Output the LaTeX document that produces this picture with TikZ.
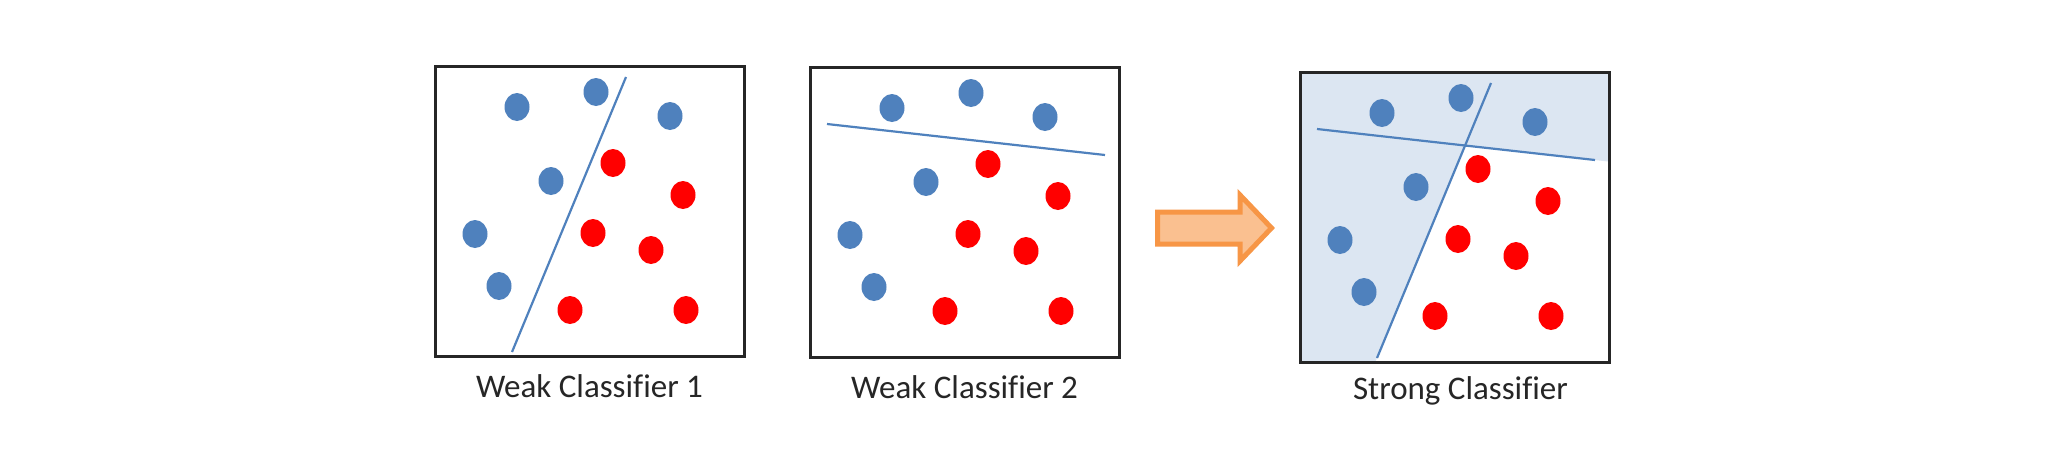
\documentclass[tikz,border=0pt]{standalone}
\usepackage{fontspec}
\setmainfont{Carlito}[Ligatures=CommonOff]
\definecolor{dotblue}{HTML}{4F81BD}
\definecolor{dotred}{HTML}{FF0000}
\definecolor{regionshade}{HTML}{DCE6F2}
\definecolor{arrowline}{HTML}{F79646}
\definecolor{arrowfill}{HTML}{FAC090}
\definecolor{framecol}{HTML}{262626}
\newcommand\paneldots{%
  \foreach \a/\b in {82/41,161/26,235/50,116/115,40/168,64/220}
    \fill[bluedot] (\a,\b) ellipse [x radius=12.5, y radius=14];
  \foreach \a/\b in {178/97,248/129,158/167,216/184,135/244,251/244}
    \fill[reddot] (\a,\b) ellipse [x radius=12.5, y radius=14];
}
\begin{document}
\begin{tikzpicture}[x=0.5pt,y=-0.5pt,
  bluedot/.style={fill=dotblue},
  reddot/.style={fill=dotred},
  sepline/.style={draw=dotblue,line width=1.1pt},
  panel/.style={draw=framecol,line width=1.5pt},
  caption/.style={anchor=base,font=\fontsize{16.5}{20}\selectfont,text=framecol,inner sep=0pt}]
\useasboundingbox (0,0) rectangle (2062,461);
\fill[white] (0,0) rectangle (2062,461);

% Weak classifier 1
\begin{scope}[shift={(435,66)}]
  \draw[sepline] (191,11) -- (77,286);
  \paneldots
  \draw[panel] (0,0) rectangle (309,290);
\end{scope}
\node[caption] (cap1) at (589.5,397) {Weak Classifier 1};

% Weak classifier 2
\begin{scope}[shift={(810,67)}]
  \draw[sepline] (17,57) -- (295,88);
  \paneldots
  \draw[panel] (0,0) rectangle (309,290);
\end{scope}
\node[caption] (cap2) at (964.5,398) {Weak Classifier 2};

% Arrow
\draw[draw=arrowline,fill=arrowfill,line width=2.5pt,line join=miter]
  (1157.5,212) -- (1240,212) -- (1240,195) -- (1271.5,228) -- (1240,261)
  -- (1240,244) -- (1157.5,244) -- cycle;

% Strong classifier
\begin{scope}[shift={(1300,72)}]
  \fill[regionshade] (0,0) -- (309,0) -- (309,89.6) -- (165.1,73.5) -- (75.3,290) -- (0,290) -- cycle;
  \draw[sepline] (191,11) -- (77,286);
  \draw[sepline] (17,57) -- (295,88);
  \paneldots
  \draw[panel] (0,0) rectangle (309,290);
\end{scope}
\node[caption] (cap3) at (1460.5,399.5) {Strong Classifier};
\end{tikzpicture}
\end{document}
